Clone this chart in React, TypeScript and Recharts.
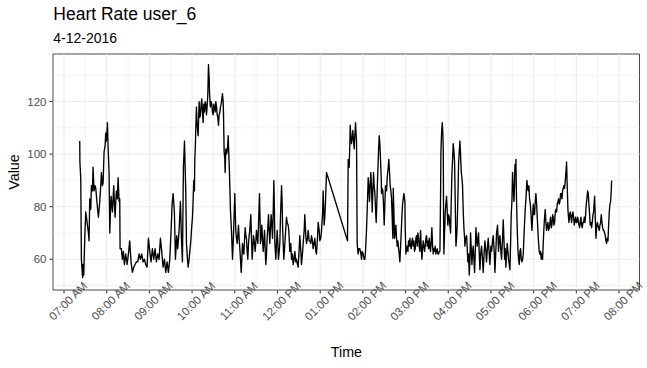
import React from 'react';
import {
  LineChart,
  Line,
  XAxis,
  YAxis,
  ReferenceLine,
  ReferenceArea,
} from 'recharts';

// heart rate samples as [minutes since midnight, bpm], split per hour
const am7: [number, number][] = [
  [442.1, 105], [442.3, 97], [443.5, 91], [444.4, 60], [445.8, 54], [446.3, 53], [446.8, 58], [447.7, 54],
  [449.1, 68], [450.5, 78], [452.4, 74], [454.3, 70], [455.2, 67], [456.1, 83], [457.6, 79], [458.5, 88],
  [459.9, 86], [460.8, 95], [462.2, 86], [463.6, 88], [464.6, 87], [466.5, 81], [468.3, 76], [470.2, 82],
  [471.6, 88], [472.5, 93], [474.0, 88], [474.9, 89], [476.3, 101], [477.7, 103], [478.6, 108], [479.6, 105],
];
const am8: [number, number][] = [
  [481.0, 112], [481.9, 103], [483.3, 93], [484.3, 70], [485.2, 78], [486.1, 84], [487.1, 81], [488.0, 78],
  [488.9, 83], [489.9, 88], [490.8, 81], [491.8, 76], [492.7, 82], [493.6, 86], [495.0, 83], [496.0, 91],
  [497.4, 82], [498.3, 83], [498.8, 64], [500.6, 64], [502.0, 60], [503.4, 63], [504.8, 58], [506.7, 62],
  [508.6, 58], [510.5, 62], [512.3, 67], [514.2, 59], [516.1, 55], [518.0, 57], [519.8, 58], [521.7, 59],
  [523.6, 59], [525.5, 62], [527.3, 60], [529.2, 62], [531.1, 59], [533.0, 60], [534.8, 58], [536.7, 57],
  [538.6, 68],
];
const am9: [number, number][] = [
  [540.5, 63], [542.3, 59], [544.2, 64], [546.1, 60], [548.0, 64], [549.8, 59], [551.7, 62], [553.6, 60],
  [555.5, 68], [557.3, 63], [559.2, 57], [561.1, 60], [563.0, 55], [564.8, 59], [566.7, 55], [568.6, 60],
  [570.5, 71], [571.9, 81], [573.3, 85], [575.1, 78], [576.6, 60], [578.4, 69], [579.8, 64], [581.7, 71],
  [583.6, 82], [585.0, 68], [586.4, 59], [587.8, 95], [589.3, 105], [590.2, 95], [591.1, 86], [592.1, 66],
  [593.5, 60], [594.4, 57], [595.8, 60], [596.8, 63], [598.2, 67], [599.1, 71],
];
const am10: [number, number][] = [
  [600.5, 76], [601.4, 82], [602.4, 90], [603.3, 86], [603.8, 98], [604.7, 104], [605.2, 110], [606.1, 118],
  [607.1, 111], [608.5, 107], [609.9, 120], [610.8, 114], [611.8, 115], [612.7, 119], [613.6, 121], [614.6, 116],
  [615.5, 112], [616.4, 119], [617.4, 116], [618.3, 120], [619.3, 119], [620.2, 115], [621.1, 118], [622.1, 123],
  [623.0, 134], [624.0, 129], [624.4, 124], [625.4, 119], [625.8, 118], [626.8, 120], [627.7, 119], [628.6, 116],
  [629.6, 115], [630.5, 119], [631.4, 118], [632.4, 116], [633.3, 120], [634.3, 118], [635.2, 115], [636.1, 114],
  [637.1, 111], [638.0, 115], [639.0, 116], [639.9, 118], [640.8, 119], [641.8, 121], [642.7, 123], [643.6, 120],
  [644.1, 116], [645.0, 101], [646.0, 98], [646.4, 93], [647.4, 102], [648.3, 100], [649.3, 101], [650.2, 104],
  [650.7, 107], [651.6, 100], [652.5, 93], [653.0, 88], [654.0, 78], [655.3, 71], [656.8, 60], [657.7, 66],
  [658.6, 73],
];
const am11: [number, number][] = [
  [660.0, 85], [661.4, 71], [662.4, 68], [663.3, 66], [664.3, 69], [665.2, 73], [666.1, 68], [667.1, 64],
  [668.0, 60], [669.0, 55], [669.9, 60], [670.8, 66], [671.8, 63], [672.7, 62], [673.6, 67], [674.6, 72],
  [675.5, 69], [676.4, 68], [677.4, 63], [678.3, 60], [679.3, 66], [680.2, 69], [681.1, 71], [682.5, 77],
  [683.5, 68], [684.4, 60], [685.3, 64], [686.3, 69], [687.7, 66], [688.6, 63], [689.6, 67], [690.5, 71],
  [691.4, 68], [692.4, 66], [693.3, 73], [694.7, 85], [695.7, 73], [696.1, 66], [697.1, 68], [698.0, 73],
  [699.0, 68], [699.9, 63], [700.8, 66], [701.8, 71], [702.7, 64], [703.6, 58], [704.6, 62], [705.5, 68],
  [706.4, 72], [707.4, 77], [708.3, 71], [709.2, 66], [710.2, 72], [711.1, 77], [712.1, 73], [713.0, 68],
  [713.9, 77], [714.9, 90], [715.8, 77], [716.3, 66], [717.7, 60], [718.6, 66], [719.6, 71],
];
const pm12: [number, number][] = [
  [720.5, 66], [721.4, 60], [722.4, 63], [723.3, 66], [724.2, 76], [725.7, 88], [726.6, 81], [727.1, 73],
  [728.0, 66], [728.9, 60], [729.9, 64], [730.8, 68], [731.7, 72], [732.7, 76], [733.6, 74], [735.0, 73],
  [735.9, 71], [737.3, 63], [738.7, 66], [739.7, 60], [741.1, 62], [742.0, 58], [743.4, 60], [744.4, 63],
  [745.8, 59], [746.7, 60], [748.1, 58], [749.0, 57], [750.5, 64], [751.4, 69], [752.8, 63], [753.7, 58],
  [755.1, 62], [756.1, 66], [757.5, 71], [758.4, 77], [759.8, 69], [760.8, 66], [762.2, 68], [763.1, 71],
  [764.5, 67], [765.5, 67], [766.9, 66], [767.8, 69], [769.2, 67], [770.1, 64], [771.5, 66], [772.5, 68],
  [773.9, 63], [774.8, 62], [776.2, 68], [777.2, 74], [778.6, 71], [779.5, 67],
];
const pm1: [number, number][] = [
  [780.9, 68], [781.9, 71], [783.3, 77], [784.2, 86], [785.1, 78], [785.6, 73], [786.5, 76], [787.5, 82],
  [788.9, 93], [818.4, 67], [819.4, 98], [820.3, 97], [820.8, 95], [821.7, 104], [822.2, 111], [823.1, 107],
  [824.0, 104], [825.0, 106], [825.9, 109], [826.9, 105], [827.8, 102], [828.7, 107], [829.7, 112], [830.6, 107],
  [831.1, 105], [832.0, 66], [832.9, 63], [833.4, 62], [834.4, 64], [835.8, 64], [837.2, 62], [838.1, 60],
  [839.0, 63],
];
const pm2: [number, number][] = [
  [840.4, 62], [841.8, 60], [842.8, 60], [843.7, 63], [845.1, 71], [846.5, 82], [847.5, 91], [848.4, 88],
  [849.3, 82], [850.3, 88], [851.2, 93], [852.2, 87], [853.1, 78], [854.0, 86], [855.0, 93], [855.9, 88],
  [856.9, 85], [857.8, 79], [858.7, 74], [859.7, 82], [860.6, 90], [861.5, 97], [862.0, 101], [863.0, 107],
  [863.9, 104], [864.8, 98], [865.8, 91], [866.2, 85], [867.2, 87], [868.1, 86], [869.0, 81], [870.0, 73],
  [870.9, 81], [871.8, 88], [873.3, 86], [874.2, 91], [875.6, 95], [876.5, 98], [877.5, 93], [878.4, 88],
  [879.4, 86], [880.3, 83], [881.2, 76], [882.2, 68], [882.7, 87], [883.6, 78], [884.5, 68], [885.5, 70],
  [886.4, 73], [887.3, 68], [888.3, 65], [889.2, 67], [890.2, 64], [891.1, 62], [892.0, 59], [893.0, 65],
  [893.9, 70], [894.8, 76], [895.8, 81], [896.7, 83], [897.7, 85], [898.6, 83], [899.1, 82], [899.5, 72],
];
const pm3: [number, number][] = [
  [900.5, 62], [901.4, 64], [902.3, 65], [903.3, 63], [904.2, 67], [905.1, 65], [906.1, 68], [907.0, 65],
  [908.0, 64], [908.9, 67], [909.8, 68], [910.8, 65], [911.7, 67], [912.6, 63], [913.6, 64], [914.5, 68],
  [915.5, 69], [916.4, 65], [917.3, 70], [918.3, 68], [919.2, 65], [920.1, 63], [921.1, 71], [922.0, 65],
  [923.0, 60], [923.9, 64], [924.8, 67], [925.8, 65], [926.7, 63], [927.6, 65], [928.6, 68], [929.5, 69],
  [930.5, 65], [931.4, 67], [932.3, 64], [933.3, 68], [934.2, 65], [935.1, 63], [936.1, 67], [937.0, 72],
  [938.0, 65], [938.9, 62], [939.8, 64], [940.8, 63], [941.7, 65], [942.6, 62], [943.6, 63], [944.5, 64],
  [945.5, 62], [946.4, 62], [947.3, 63], [948.3, 63], [949.2, 84], [949.7, 101], [950.6, 108], [951.6, 112],
  [952.5, 107], [953.0, 101], [953.4, 78], [953.9, 62], [954.8, 70], [955.8, 78], [956.7, 81], [957.6, 84],
  [958.6, 78], [959.5, 73],
];
const pm4: [number, number][] = [
  [960.5, 77], [961.4, 76], [962.3, 73], [963.3, 70], [964.2, 82], [965.1, 92], [966.1, 98], [967.0, 104],
  [968.0, 101], [968.9, 97], [969.8, 82], [970.8, 65], [971.7, 68], [972.6, 73], [973.6, 84], [974.5, 96],
  [975.5, 101], [976.4, 105], [977.3, 100], [978.3, 93], [979.2, 91], [980.1, 88], [981.1, 78], [982.0, 72],
  [983.0, 68], [983.4, 65], [984.4, 68], [985.8, 69], [986.7, 64], [987.6, 59], [988.6, 62], [989.5, 54],
  [990.5, 60], [991.4, 70], [992.3, 64], [993.3, 58], [994.2, 63], [995.1, 65], [996.1, 60], [997.0, 55],
  [998.0, 63], [998.9, 72], [999.8, 68], [1000.8, 65], [1001.7, 68], [1002.6, 70], [1003.5, 63], [1004.5, 56],
  [1005.9, 63], [1006.8, 65], [1008.2, 60], [1009.1, 55], [1010.6, 63], [1011.5, 67], [1012.9, 63], [1013.8, 59],
  [1015.2, 65], [1016.2, 68], [1017.6, 62], [1018.5, 58], [1019.9, 65],
];
const pm5: [number, number][] = [
  [1020.9, 63], [1022.3, 67], [1023.2, 69], [1024.6, 63], [1025.6, 55], [1027.0, 64], [1027.9, 70], [1029.3, 73],
  [1030.7, 63], [1031.6, 68], [1032.6, 69], [1034.0, 63], [1034.9, 60], [1036.3, 68], [1037.3, 75], [1038.2, 68],
  [1039.2, 60], [1040.1, 64], [1041.0, 57], [1042.0, 62], [1042.9, 66], [1043.9, 63], [1044.8, 60], [1045.7, 58],
  [1046.7, 56], [1047.6, 66], [1048.5, 77], [1049.5, 82], [1050.4, 93], [1051.3, 88], [1052.3, 82], [1053.2, 88],
  [1053.7, 96], [1054.6, 93], [1055.1, 98], [1056.0, 82], [1057.0, 71], [1057.9, 64], [1058.8, 60], [1059.8, 58],
  [1060.7, 63], [1061.7, 64], [1062.6, 60], [1063.5, 59], [1064.5, 60], [1065.4, 62], [1066.3, 68], [1067.3, 74],
  [1068.2, 79], [1069.2, 83], [1070.1, 88], [1070.6, 90], [1071.5, 87], [1072.4, 86], [1073.4, 88], [1074.3, 83],
  [1075.3, 81], [1076.2, 78], [1077.1, 73], [1077.6, 71], [1078.5, 76], [1079.5, 81],
];
const pm6: [number, number][] = [
  [1080.4, 77], [1081.3, 77], [1082.3, 82], [1083.2, 85], [1084.2, 81], [1085.1, 76], [1086.0, 71], [1087.0, 66],
  [1087.9, 63], [1088.8, 62], [1089.8, 63], [1090.7, 60], [1091.7, 62], [1092.6, 60], [1093.5, 66], [1094.5, 72],
  [1095.4, 76], [1096.3, 79], [1097.3, 74], [1098.2, 71], [1099.2, 73], [1100.1, 74], [1101.0, 71], [1102.0, 72],
  [1102.9, 74], [1103.8, 76], [1104.8, 72], [1105.7, 73], [1106.7, 77], [1107.6, 76], [1108.5, 73], [1109.5, 74],
  [1110.4, 78], [1111.3, 79], [1112.3, 78], [1113.2, 81], [1114.2, 82], [1115.1, 83], [1116.0, 81], [1117.0, 82],
  [1117.9, 85], [1118.8, 85], [1119.8, 83], [1120.7, 86], [1121.7, 87], [1122.6, 88], [1123.5, 87], [1124.5, 90],
  [1125.4, 93], [1126.3, 97], [1126.8, 92], [1127.3, 87], [1128.2, 79], [1128.7, 77], [1129.6, 74], [1130.6, 77],
  [1131.5, 78], [1132.4, 76], [1133.4, 74], [1134.3, 77], [1135.2, 78], [1136.2, 76], [1137.1, 73], [1138.1, 75],
  [1139.0, 76], [1139.9, 74],
];
const pm7: [number, number][] = [
  [1140.9, 74], [1141.8, 76], [1142.7, 75], [1143.7, 73], [1144.6, 72], [1145.6, 74], [1146.5, 76], [1147.4, 73],
  [1148.4, 72], [1149.3, 74], [1150.2, 74], [1151.2, 76], [1152.1, 74], [1153.1, 77], [1154.0, 81], [1154.9, 83],
  [1155.9, 86], [1156.8, 85], [1157.7, 81], [1158.7, 77], [1159.6, 73], [1160.6, 74], [1161.5, 72], [1162.4, 74],
  [1163.4, 77], [1164.3, 78], [1165.2, 82], [1165.7, 84], [1166.6, 76], [1167.6, 68], [1168.5, 72], [1169.5, 74],
  [1170.4, 73], [1171.3, 72], [1172.3, 71], [1173.2, 73], [1174.1, 74], [1175.1, 77], [1176.0, 74], [1177.0, 72],
  [1177.9, 71], [1178.8, 71], [1179.8, 70], [1180.7, 69], [1181.6, 67], [1182.6, 66], [1183.5, 68], [1184.5, 67],
  [1185.4, 73], [1186.3, 78], [1187.3, 81], [1188.2, 82], [1189.1, 86], [1189.6, 90],
];

const tickMinutes = [420, 480, 540, 600, 660, 720, 780, 840, 900, 960, 1020, 1080, 1140, 1200];
const tickLabels = [
  '07:00 AM', '08:00 AM', '09:00 AM', '10:00 AM', '11:00 AM', '12:00 PM', '01:00 PM',
  '02:00 PM', '03:00 PM', '04:00 PM', '05:00 PM', '06:00 PM', '07:00 PM', '08:00 PM',
];
const yTicks = [60, 80, 100, 120];

const data = [am7, am8, am9, am10, am11, pm12, pm1, pm2, pm3, pm4, pm5, pm6, pm7]
  .flat()
  .map(([t, value]) => ({ t, value }));

const X_DOMAIN: [number, number] = [404.5, 1228.8];
const Y_DOMAIN: [number, number] = [48.3, 138.1];
const FONT = '"Liberation Sans", Arial, sans-serif';

const minorX: number[] = [];
for (let m = 450; m < X_DOMAIN[1]; m += 60) minorX.push(m);
const minorY = [50, 70, 90, 110, 130];

const TimeTick = (props: any) => {
  const { x, payload } = props;
  const i = tickMinutes.indexOf(payload.value);
  const cx = x + 4;
  const cy = 301;
  return (
    <text
      x={cx}
      y={cy}
      transform={`rotate(-45, ${cx}, ${cy})`}
      textAnchor="middle"
      dominantBaseline="central"
      fontSize={11.5}
      fill="#4D4D4D"
      fontFamily={FONT}
    >
      {tickLabels[i]}
    </text>
  );
};

const App = () => {
  return (
    <div style={{ position: 'absolute', left: 0, top: 0, width: 647, height: 368, background: '#fff' }}>
      <LineChart
        width={647}
        height={368}
        data={data}
        margin={{ top: 54, right: 7.5, bottom: 0, left: 0 }}
      >
        {minorY.map((v) => (
          <ReferenceLine key={'my' + v} y={v} stroke="#EBEBEB" strokeWidth={0.6} />
        ))}
        {minorX.map((v) => (
          <ReferenceLine key={'mx' + v} x={v} stroke="#EBEBEB" strokeWidth={0.6} />
        ))}
        {yTicks.map((v) => (
          <ReferenceLine key={'y' + v} y={v} stroke="#EBEBEB" strokeWidth={1.1} />
        ))}
        {tickMinutes.map((v) => (
          <ReferenceLine key={'x' + v} x={v} stroke="#EBEBEB" strokeWidth={1.1} />
        ))}
        <XAxis
          type="number"
          dataKey="t"
          domain={X_DOMAIN}
          ticks={tickMinutes}
          allowDataOverflow
          height={78}
          axisLine={false}
          tickLine={{ stroke: '#333333' }}
          tickSize={3.5}
          tick={<TimeTick />}
          interval={0}
        />
        <YAxis
          type="number"
          domain={Y_DOMAIN}
          ticks={yTicks}
          allowDataOverflow
          width={53}
          axisLine={false}
          tickLine={{ stroke: '#333333' }}
          tickSize={3.5}
          tickMargin={3}
          tick={{ fontSize: 11.5, fill: '#4D4D4D', fontFamily: FONT }}
          interval={0}
        />
        <Line
          type="linear"
          dataKey="value"
          stroke="#000000"
          strokeWidth={1.35}
          strokeLinejoin="round"
          dot={false}
          isAnimationActive={false}
        />
        <ReferenceArea
          x1={X_DOMAIN[0]}
          x2={X_DOMAIN[1]}
          y1={Y_DOMAIN[0]}
          y2={Y_DOMAIN[1]}
          fill="none"
          fillOpacity={0}
          stroke="#333333"
          strokeWidth={0.9}
        />
      </LineChart>
      <svg
        width={647}
        height={368}
        style={{ position: 'absolute', left: 0, top: 0, pointerEvents: 'none' }}
        fontFamily={FONT}
      >
        <text x={53.3} y={20} fontSize={17.5} fill="#000">Heart Rate user_6</text>
        <text x={53.3} y={42.7} fontSize={14} fill="#000">4-12-2016</text>
        <text x={346.4} y={357} fontSize={14.3} fill="#000" textAnchor="middle">Time</text>
        <text
          x={19}
          y={172}
          fontSize={14.3}
          fill="#000"
          textAnchor="middle"
          transform="rotate(-90, 19, 172)"
        >
          Value
        </text>
      </svg>
    </div>
  );
};

export default App;
